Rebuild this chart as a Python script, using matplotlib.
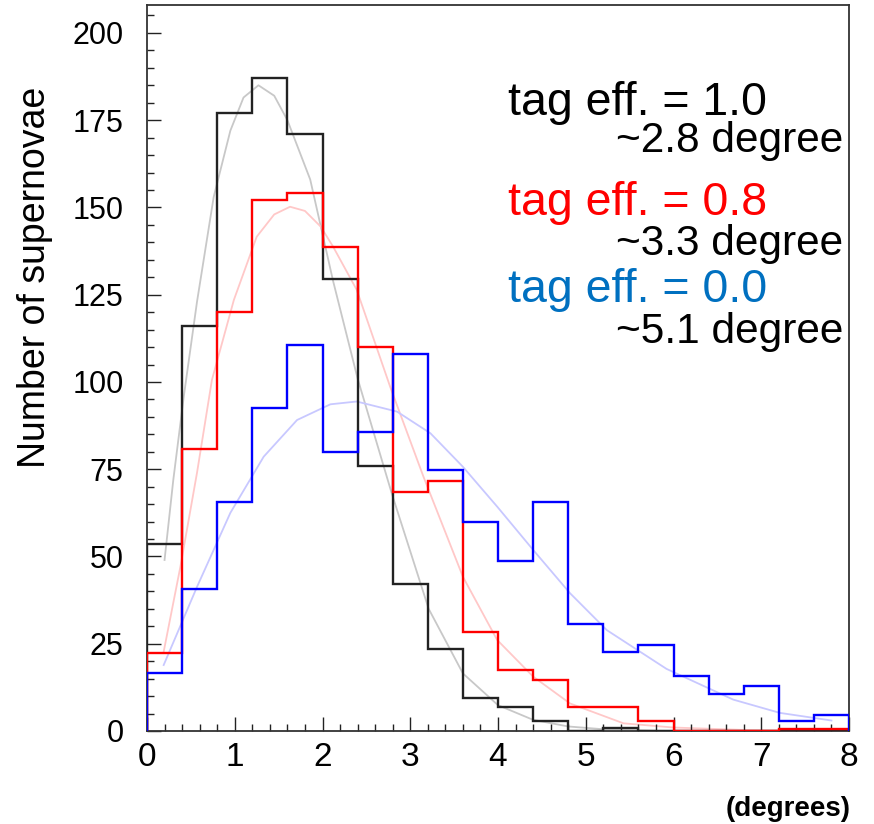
import matplotlib
matplotlib.use("Agg")
import matplotlib.pyplot as plt
from matplotlib.ticker import MultipleLocator

plt.rcParams.update({
    "font.family": ["Liberation Sans", "DejaVu Sans"],
    "figure.facecolor": "white",
    "axes.facecolor": "white",
})

# histogram binning (degrees)
bin_edges = [0.0, 0.4, 0.8, 1.2, 1.6, 2.0, 2.4, 2.8, 3.2, 3.6, 4.0,
             4.4, 4.8, 5.2, 5.6, 6.0, 6.4, 6.8, 7.2, 7.6, 8.0]

# counts per bin
eff10_counts = [53.7, 116, 177, 187, 171, 129.5, 76, 42, 23.5, 9.5,
                7, 3, 0, 1, 0, 0, 0, 0, 0, 0]
eff08_counts = [22.4, 80.8, 120, 152, 154, 138.6, 110, 68.4, 71.5, 28.5,
                17.5, 14.7, 7, 7, 3, 0, 0, 0, 0.7, 0.7]
eff00_counts = [16.5, 40.8, 65.5, 92.6, 110.6, 79.9, 85.8, 108, 74.8, 59.8,
                48.8, 65.6, 30.7, 22.5, 24.7, 15.7, 10.6, 12.9, 2.8, 4.7]

# fitted curves, points
fit10_x = [0.2, 0.3, 0.42, 0.57, 0.76, 0.95, 1.1, 1.27, 1.45, 1.6, 1.86, 2.12,
           2.4, 2.79, 3.21, 3.6, 4.0, 4.4, 4.8, 5.2, 5.8, 6.5, 7.8]
fit10_y = [49, 72, 96, 123, 153, 172, 181.5, 185, 182, 175, 158, 129,
           101, 68, 35, 16.5, 7.4, 3.2, 1.3, 0.5, 0.1, 0, 0]
fit08_x = [0.19, 0.38, 0.57, 0.74, 0.99, 1.25, 1.45, 1.63, 1.8, 1.98, 2.12,
           2.39, 2.77, 3.15, 3.6, 3.99, 4.4, 4.82, 5.43, 6.0, 6.8, 7.8]
fit08_y = [22.7, 47, 74, 100.6, 123.5, 141.6, 148, 150.2, 149, 144.5, 138.8,
           126.4, 98.7, 72.9, 44.2, 26.1, 15.6, 7.9, 2.2, 1, 0.3, 0]
fit00_x = [0.19, 0.57, 0.95, 1.33, 1.71, 2.09, 2.39, 2.85, 3.23, 3.6, 3.99,
           4.4, 4.82, 5.24, 5.92, 6.68, 7.21, 7.8]
fit00_y = [18.9, 41.3, 62.5, 78.6, 89.1, 93.6, 94.4, 91.5, 85.3, 75.7, 64.3,
           51.9, 39.5, 28.9, 17.8, 9, 5.2, 3]

labels = ["tag eff. = 1.0", "tag eff. = 0.8", "tag eff. = 0.0"]
resolutions = ["~2.8 degree", "~3.3 degree", "~5.1 degree"]

W, H = 874, 824
fig = plt.figure(figsize=(W / 100, H / 100), dpi=100)
ax = fig.add_axes([147 / W, 1 - 731 / H, (849 - 147) / W, (731 - 5) / H])

# fits (faint)
ax.plot(fit10_x, fit10_y, color="#c8c8c8", lw=1.3, zorder=1, solid_joinstyle="round")
ax.plot(fit08_x, fit08_y, color="#ffc8c8", lw=1.3, zorder=1, solid_joinstyle="round")
ax.plot(fit00_x, fit00_y, color="#c8c8ff", lw=1.3, zorder=1, solid_joinstyle="round")

# histograms
ax.stairs(eff10_counts, bin_edges, baseline=0, fill=False, color="#222222", lw=1.7, zorder=3)
ax.stairs(eff08_counts, bin_edges, baseline=0, fill=False, color="#ff0000", lw=1.7, zorder=3)
ax.stairs(eff00_counts, bin_edges, baseline=0, fill=False, color="#0000ff", lw=1.7, zorder=3)

ax.set_xlim(0, 8)
ax.set_ylim(0, 208)
ax.xaxis.set_major_locator(MultipleLocator(1))
ax.xaxis.set_minor_locator(MultipleLocator(0.2))
ax.yaxis.set_major_locator(MultipleLocator(25))
ax.yaxis.set_minor_locator(MultipleLocator(5))
ax.tick_params(which="both", direction="in", top=False, right=False, width=1.0, color="#222222")
ax.tick_params(which="major", length=10)
ax.tick_params(which="minor", length=5)
ax.tick_params(axis="x", which="major", labelsize=24, pad=8)
ax.tick_params(axis="y", which="major", labelsize=22, pad=17)
for s in ax.spines.values():
    s.set_linewidth(1.3)
    s.set_color("#333333")

fig.text(35 / W, 1 - 277 / H, "Number of supernovae", rotation=90,
         ha="center", va="center", fontsize=27)
fig.text(851 / W, 1 - 822 / H, "(degrees)", ha="right", va="bottom",
         fontsize=20, fontweight="bold")

# annotation block
label_colors = ["black", "#ff0000", "#0070c0"]
label_base = [115, 215, 302]
res_base = [152, 255, 343]
for lab, col, yb in zip(labels, label_colors, label_base):
    fig.text(508 / W, 1 - yb / H, lab, color=col, fontsize=33.5, ha="left", va="baseline")
for res, yb in zip(resolutions, res_base):
    fig.text(843 / W, 1 - yb / H, res, color="black", fontsize=30.5, ha="right", va="baseline")

fig.savefig("out.png", dpi=100, facecolor="white")
